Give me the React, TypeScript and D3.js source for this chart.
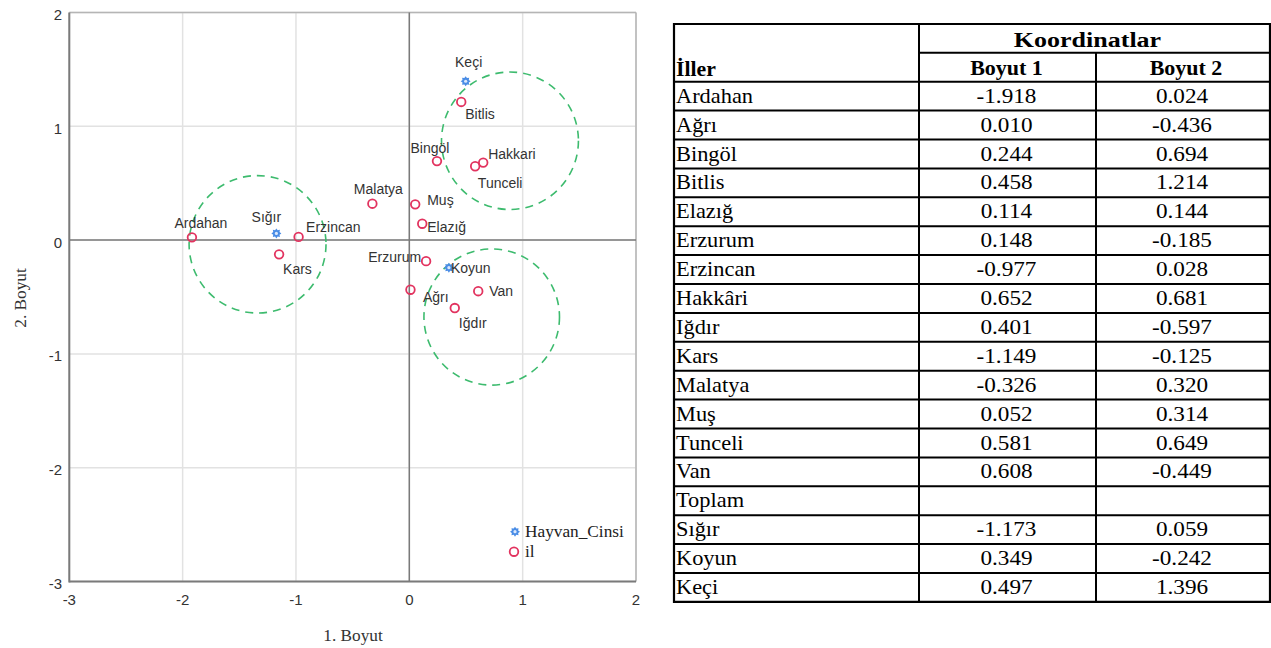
import React from "react";
import * as d3 from "d3";

// ---------- data ----------
const provinces = ["Ardahan", "Ağrı", "Bingöl", "Bitlis", "Elazığ", "Erzurum", "Erzincan", "Hakkâri", "Iğdır", "Kars", "Malatya", "Muş", "Tunceli", "Van"];
const provinceChartLabels = ["Ardahan", "Ağrı", "Bingöl", "Bitlis", "Elazığ", "Erzurum", "Erzincan", "Hakkari", "Iğdır", "Kars", "Malatya", "Muş", "Tunceli", "Van"];
const provinceDim1 = [-1.918, 0.01, 0.244, 0.458, 0.114, 0.148, -0.977, 0.652, 0.401, -1.149, -0.326, 0.052, 0.581, 0.608];
const provinceDim2 = [0.024, -0.436, 0.694, 1.214, 0.144, -0.185, 0.028, 0.681, -0.597, -0.125, 0.32, 0.314, 0.649, -0.449];
const provinceDim1Text = ["-1.918", "0.010", "0.244", "0.458", "0.114", "0.148", "-0.977", "0.652", "0.401", "-1.149", "-0.326", "0.052", "0.581", "0.608"];
const provinceDim2Text = ["0.024", "-0.436", "0.694", "1.214", "0.144", "-0.185", "0.028", "0.681", "-0.597", "-0.125", "0.320", "0.314", "0.649", "-0.449"];

const animals = ["Sığır", "Koyun", "Keçi"];
const animalDim1 = [-1.173, 0.349, 0.497];
const animalDim2 = [0.059, -0.242, 1.396];
const animalDim1Text = ["-1.173", "0.349", "0.497"];
const animalDim2Text = ["0.059", "-0.242", "1.396"];

const axisTicks = [-3, -2, -1, 0, 1, 2];
const clusterCx = [-1.339, 0.888, 0.727];
const clusterCy = [-0.037, 0.873, -0.676];
const clusterR = [0.604, 0.604, 0.598];

const tableHeaderGroup = "Koordinatlar";
const tableHeaderFirst = "İller";
const tableHeaderCols = ["Boyut 1", "Boyut 2"];
const totalLabel = "Toplam";
const legendLabels = ["Hayvan_Cinsi", "il"];
const axisTitles = ["1. Boyut", "2. Boyut"];

// ---------- layout (label offsets: dx, dy, anchor) ----------
const labelLayout: Record<string, [number, number, string]> = {
  Ardahan: [9, -14, "middle"],
  "Sığır": [-10, -16, "middle"],
  Erzincan: [7.5, -10, "start"],
  Kars: [4, 14.5, "start"],
  Malatya: [6, -15, "middle"],
  "Muş": [12, -4, "start"],
  "Elazığ": [5, 3, "start"],
  "Bingöl": [-7, -13.5, "middle"],
  Bitlis: [4, 12, "start"],
  "Keçi": [3, -19.5, "middle"],
  Hakkari: [5, -9, "start"],
  Tunceli: [25, 16.5, "middle"],
  Erzurum: [-5, -4.5, "end"],
  Koyun: [2, 0, "start"],
  "Ağrı": [12.5, 7, "start"],
  Van: [11, 0, "start"],
  "Iğdır": [18, 15, "middle"],
};

const RED = "#e2335f";
const BLUE = "#4a8de6";
const GREEN = "#3dbb6e";

function starPath(r1: number, r2: number, n: number) {
  const pts: [number, number][] = [];
  for (let i = 0; i < n * 2; i++) {
    const r = i % 2 === 0 ? r1 : r2;
    const a = (Math.PI * i) / n - Math.PI / 2;
    pts.push([r * Math.cos(a), r * Math.sin(a)]);
  }
  return d3.line()(pts.concat([pts[0]])) as string;
}
const STAR = starPath(5, 3.4, 8);

function Star({ x, y }: { x: number; y: number }) {
  return (
    <g transform={`translate(${x},${y})`}>
      <path d={STAR} fill={BLUE} />
      <circle r={1.6} fill="#dbe8fb" />
    </g>
  );
}

function Chart() {
  const x = d3.scaleLinear().domain([-3, 2]).range([69.3, 636]);
  const y = d3.scaleLinear().domain([-3, 2]).range([581.5, 12.5]);
  const labelFont = "'Liberation Sans', Arial, sans-serif";
  const serif = "'Liberation Serif', 'Times New Roman', serif";

  const points = [
    ...provinceChartLabels.map((n, i) => ({ name: n, x: provinceDim1[i], y: provinceDim2[i], kind: "il" })),
    ...animals.map((n, i) => ({ name: n, x: animalDim1[i], y: animalDim2[i], kind: "animal" })),
  ];

  return (
    <g>
      {/* grid */}
      {axisTicks.map((t) => (
        <line key={"gx" + t} x1={x(t)} x2={x(t)} y1={y(2)} y2={y(-3)} stroke="#e2e2e2" strokeWidth={1.5} />
      ))}
      {axisTicks.map((t) => (
        <line key={"gy" + t} y1={y(t)} y2={y(t)} x1={x(-3)} x2={x(2)} stroke="#e2e2e2" strokeWidth={1.5} />
      ))}
      {/* top/right frame */}
      <line x1={x(-3)} x2={x(2)} y1={y(2)} y2={y(2)} stroke="#b5b5b5" strokeWidth={1.5} />
      <line x1={x(2)} x2={x(2)} y1={y(2)} y2={y(-3)} stroke="#b5b5b5" strokeWidth={1.5} />
      {/* reference lines */}
      <line x1={x(0)} x2={x(0)} y1={y(2)} y2={y(-3)} stroke="#7a7a7a" strokeWidth={1.5} />
      <line x1={x(-3)} x2={x(2)} y1={y(0)} y2={y(0)} stroke="#7a7a7a" strokeWidth={1.5} />
      {/* axes */}
      <line x1={x(-3)} x2={x(-3)} y1={y(2)} y2={y(-3) + 1} stroke="#7a7a7a" strokeWidth={2} />
      <line x1={x(-3)} x2={x(2)} y1={y(-3)} y2={y(-3)} stroke="#7a7a7a" strokeWidth={2} />
      {/* tick labels */}
      {axisTicks.map((t) => (
        <text key={"ty" + t} x={62} y={y(t) + 2} dy="0.36em" textAnchor="end" fontFamily={labelFont} fontSize={15} fill="#333">
          {t}
        </text>
      ))}
      {axisTicks.map((t) => (
        <text key={"tx" + t} x={x(t)} y={600} dy="0.36em" textAnchor="middle" fontFamily={labelFont} fontSize={15} fill="#333">
          {t}
        </text>
      ))}
      {/* axis titles */}
      <text transform="translate(353,641) scale(1.08,1)" textAnchor="middle" fontFamily={serif} fontSize={16} fill="#333">
        {axisTitles[0]}
      </text>
      <text transform="translate(26,298) rotate(-90) scale(1.08,1)" textAnchor="middle" fontFamily={serif} fontSize={16} fill="#333">
        {axisTitles[1]}
      </text>
      {/* cluster circles */}
      {clusterCx.map((cx, i) => (
        <ellipse
          key={"c" + i}
          cx={x(cx)}
          cy={y(clusterCy[i])}
          rx={x(clusterR[i]) - x(0)}
          ry={y(0) - y(clusterR[i])}
          fill="none"
          stroke={GREEN}
          strokeWidth={1.6}
          strokeDasharray="8 6"
        />
      ))}
      {/* points */}
      {points.map((p) =>
        p.kind === "il" ? (
          <circle key={"p" + p.name} cx={x(p.x)} cy={y(p.y)} r={4.3} fill="none" stroke={RED} strokeWidth={1.8} />
        ) : (
          <Star key={"p" + p.name} x={x(p.x)} y={y(p.y)} />
        )
      )}
      {/* labels */}
      {points.map((p) => {
        const l = labelLayout[p.name] || [5, 0, "start"];
        return (
          <text
            key={"l" + p.name}
            x={x(p.x) + l[0]}
            y={y(p.y) + l[1]}
            dy="0.35em"
            textAnchor={l[2]}
            fontFamily={labelFont}
            fontSize={14}
            fill="#333"
          >
            {p.name}
          </text>
        );
      })}
      {/* legend */}
      <Star x={515} y={531.7} />
      <circle cx={514} cy={551.7} r={4.3} fill="none" stroke={RED} strokeWidth={1.8} />
      <text transform="translate(525,537) scale(1.08,1)" fontFamily={serif} fontSize={16} fill="#222">
        {legendLabels[0]}
      </text>
      <text transform="translate(525,557) scale(1.08,1)" fontFamily={serif} fontSize={16} fill="#222">
        {legendLabels[1]}
      </text>
    </g>
  );
}

function Table() {
  const c0 = 674, c1 = 919, c2 = 1096, c3 = 1270;
  const top = 24, mid = 52.7, hb = 81.7, rh = 28.9;
  const serif = "'Liberation Serif', 'Times New Roman', serif";
  const rows: [string, string, string][] = [
    ...provinces.map((p, i) => [p, provinceDim1Text[i], provinceDim2Text[i]] as [string, string, string]),
    [totalLabel, "", ""],
    ...animals.map((a, i) => [a, animalDim1Text[i], animalDim2Text[i]] as [string, string, string]),
  ];
  const bottom = hb + rows.length * rh;
  const sx = 1.16;
  const T = (props: { x: number; y: number; anchor?: string; bold?: boolean; s?: number; children: any }) => (
    <text
      transform={`translate(${props.x},${props.y}) scale(${props.s ?? sx},1)`}
      textAnchor={props.anchor || "start"}
      fontFamily={serif}
      fontSize={20}
      fontWeight={props.bold ? "bold" : "normal"}
      fill="#000"
    >
      {props.children}
    </text>
  );
  const m1 = (c1 + c2) / 2 - 1;
  const m2 = (c2 + c3) / 2 - 1;
  return (
    <g>
      <T x={(c1 + c3) / 2 - 7} y={47.3} anchor="middle" bold s={1.3}>{tableHeaderGroup}</T>
      <T x={c0 + 2} y={76} bold s={1.09}>{tableHeaderFirst}</T>
      <T x={m1} y={74.5} anchor="middle" bold s={1.1}>{tableHeaderCols[0]}</T>
      <T x={m2 + 4} y={74.5} anchor="middle" bold s={1.1}>{tableHeaderCols[1]}</T>
      {rows.map((r, i) => {
        const yb = hb + i * rh + 21;
        return (
          <g key={"r" + i}>
            <T x={c0 + 2} y={yb} s={1.12}>{r[0]}</T>
            <T x={m1} y={yb} anchor="middle">{r[1]}</T>
            <T x={m2} y={yb} anchor="middle">{r[2]}</T>
          </g>
        );
      })}
      {/* horizontal lines */}
      <line x1={c0} x2={c3} y1={top} y2={top} stroke="#000" strokeWidth={2.2} />
      <line x1={c1} x2={c3} y1={mid} y2={mid} stroke="#000" strokeWidth={2} />
      {d3.range(rows.length + 1).map((i) => (
        <line key={"h" + i} x1={c0} x2={c3} y1={hb + i * rh} y2={hb + i * rh} stroke="#000" strokeWidth={i === rows.length ? 2.2 : 2} />
      ))}
      {/* vertical lines */}
      <line x1={c0} x2={c0} y1={top - 1} y2={bottom + 1} stroke="#000" strokeWidth={2.2} />
      <line x1={c1} x2={c1} y1={top} y2={bottom} stroke="#000" strokeWidth={2} />
      <line x1={c2} x2={c2} y1={mid} y2={bottom} stroke="#000" strokeWidth={2} />
      <line x1={c3} x2={c3} y1={top - 1} y2={bottom + 1} stroke="#000" strokeWidth={2.2} />
    </g>
  );
}

export default function App() {
  return (
    <svg
      width={1271}
      height={648}
      style={{ position: "absolute", left: 0, top: 0, background: "#fff" }}
    >
      <rect width={1271} height={648} fill="#fff" />
      <Chart />
      <Table />
    </svg>
  );
}
